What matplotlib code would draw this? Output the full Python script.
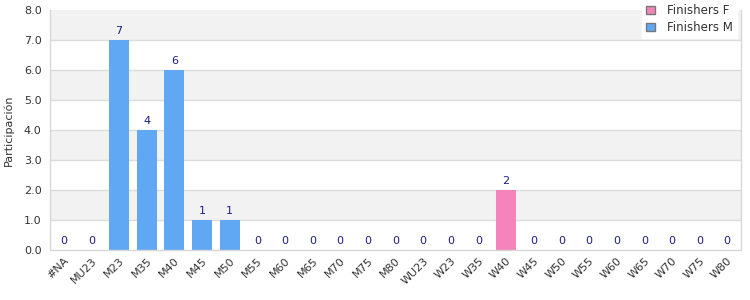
import numpy as np
import matplotlib.pyplot as plt
from matplotlib.patches import Patch

# ----- Dati -----
categorie = ["#NA", "MU23", "M23", "M35", "M40", "M45", "M50", "M55", "M60", "M65",
             "M70", "M75", "M80", "WU23", "W23", "W35", "W40", "W45", "W50", "W55",
             "W60", "W65", "W70", "W75", "W80"]
finishers_m = [0, 0, 7, 4, 6, 1, 1, 0, 0, 0, 0, 0, 0]
finishers_f = [0, 0, 0, 2, 0, 0, 0, 0, 0, 0, 0, 0]

col_m = "#60a8f4"
col_f = "#f484bb"
col_lab = "#1c1c8c"


def main():
    valori = finishers_m + finishers_f
    colori = [col_m] * len(finishers_m) + [col_f] * len(finishers_f)
    x = np.arange(len(categorie))

    fig = plt.figure(figsize=(7.5, 3), dpi=100)
    ax = fig.add_axes([50/750, 50/300, 691/750, 240/300])

    # bande alternate
    for k in range(8):
        if k % 2 == 1:
            ax.axhspan(k, k + 1, color="#f2f2f2", zorder=0, lw=0)
    for k in range(1, 8):
        ax.axhline(k, color="#dcdcdc", lw=1, zorder=1)

    ax.bar(x, valori, width=0.72, color=colori, zorder=2)
    for xi, v in zip(x, valori):
        ax.text(xi, v + 0.12, str(v), ha="center", va="bottom", color=col_lab, fontsize=8)

    ax.set_xlim(-0.5, len(categorie) - 0.5)
    ax.set_ylim(0, 8)
    ax.set_yticks(np.arange(0, 9, 1))
    ax.set_yticklabels([f"{v:.1f}" for v in range(9)])
    ax.set_xticks(x)
    ax.set_xticklabels(categorie, rotation=45, ha="right", rotation_mode="anchor")
    ax.tick_params(axis="both", length=0, labelsize=8, labelcolor="#333333")
    ax.tick_params(axis="x", pad=4)
    ax.tick_params(axis="y", pad=6)
    ax.spines["top"].set_visible(False)
    for s in ["left", "right", "bottom"]:
        ax.spines[s].set_color("#d8d8d8")
        ax.spines[s].set_linewidth(1)

    ax.set_ylabel("Participación", fontsize=8, color="#333333")
    ax.yaxis.set_label_coords(-0.053, 0.5)

    handles = [Patch(facecolor=col_f, edgecolor="#777777", label="Finishers F"),
               Patch(facecolor=col_m, edgecolor="#777777", label="Finishers M")]
    leg = ax.legend(handles=handles, loc="upper right", bbox_to_anchor=(737/750, 1.0),
                    bbox_transform=fig.transFigure, fontsize=8.5, frameon=True,
                    fancybox=False, handlelength=0.75, handleheight=0.75,
                    borderpad=0.35, labelspacing=0.35, handletextpad=1.0,
                    borderaxespad=0)
    leg.get_frame().set_edgecolor("white")
    leg.get_frame().set_facecolor("white")
    leg.get_frame().set_alpha(1)
    for t in leg.get_texts():
        t.set_color("#333333")

    plt.savefig("out.png", dpi=100)


if __name__ == '__main__':
    main()
